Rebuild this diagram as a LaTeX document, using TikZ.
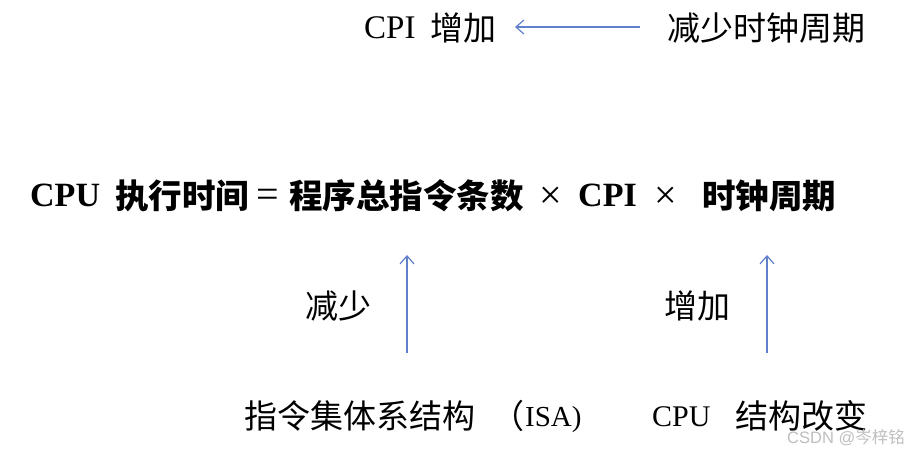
\documentclass[tikz,border=0pt]{standalone}
\usepackage{fontspec}
\setmainfont{Liberation Serif}
\setsansfont{Liberation Sans}
\newfontfamily\cjk{Noto Sans CJK SC}
\usetikzlibrary{arrows.meta}
\definecolor{arrowblue}{RGB}{96,128,204}
\tikzset{
  lat/.style={inner sep=0pt, anchor=base west, font=\fontsize{30}{36}\selectfont},
  han/.style={inner sep=0pt, anchor=base west, font=\fontsize{33}{38}\selectfont\cjk},
  blat/.style={lat, font=\fontsize{34}{38}\selectfont\bfseries},
  bop/.style={lat, font=\fontsize{40}{44}\selectfont},
  bhan/.style={han, font=\fontsize{33.5}{38}\selectfont\cjk\bfseries},
  conn/.style={draw=arrowblue, line width=1.2pt, -{Straight Barb[length=8pt,width=14pt,line width=1.2pt]}},
  wmark/.style={inner sep=0pt, anchor=base west, text=black!25, font=\fontsize{16.5}{18}\selectfont\sffamily}
}
\begin{document}
\begin{tikzpicture}[x=1pt,y=-1pt]
\useasboundingbox (0,0) rectangle (910,451);
\fill[white] (0,0) rectangle (910,451);
% top row
\node[lat, font=\fontsize{33}{36}\selectfont] (cpiup) at (364,38) {CPI};
\node[han] (cpiupz) at (430,40) {增加};
\node[han] (clk) at (667,40) {减少时钟周期};
\coordinate (topstart) at (640,27);
\coordinate (topend) at (515,27);
\draw[conn] (topstart) -- (topend);
% main formula
\node[blat] (f1) at (30,206) {CPU};
\node[bhan] (f2) at (115,208) {执行时间};
\node[bop] (f3) at (256,207) {=};
\node[bhan] (f4) at (289,208) {程序总指令条数};
\node[bop] (f5) at (539,208) {×};
\node[blat] (f6) at (578,206) {CPI};
\node[bop] (f7) at (654,208) {×};
\node[bhan] (f8) at (702,208) {时钟周期};
% up arrows
\coordinate (a1s) at (407,353);
\coordinate (a1e) at (407,255);
\coordinate (a2s) at (767,353);
\coordinate (a2e) at (767,255);
\draw[conn] (a1s) -- (a1e);
\draw[conn] (a2s) -- (a2e);
\node[han] (dec) at (305,318) {减少};
\node[han] (inc) at (664,318) {增加};
% bottom row
\node[han] (isa) at (244,428) {指令集体系结构};
\node[han] (isap) at (491,428) {（};
\node[lat, font=\fontsize{29}{34}\selectfont] (isal) at (525,426) {ISA)};
\node[lat] (cpuarch) at (652,426) {CPU};
\node[han] (cpuarchz) at (735,428) {结构改变};
% watermark
\node[wmark] (wm) at (787,443) {CSDN @{\cjk 岑梓铭}};
\end{tikzpicture}
\end{document}
